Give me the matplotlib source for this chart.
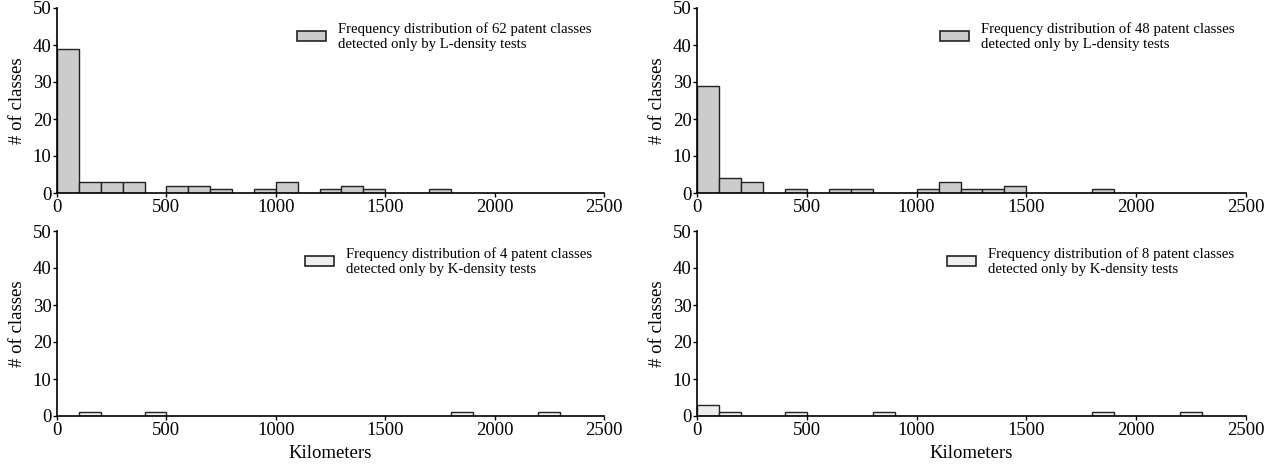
import matplotlib
matplotlib.use("Agg")
import matplotlib.pyplot as plt
import numpy as np
from matplotlib.patches import Patch

plt.rcParams['font.family'] = ['Liberation Serif', 'DejaVu Serif']

bin_width = 100
bin_starts = list(range(0, 2500, 100))

counts_L62 = [39, 3, 3, 3, 0, 2, 2, 1, 0, 1, 3, 0, 1, 2, 1, 0, 0, 1, 0, 0, 0, 0, 0, 0, 0]
counts_L48 = [29, 4, 3, 0, 1, 0, 1, 1, 0, 0, 1, 3, 1, 1, 2, 0, 0, 0, 1, 0, 0, 0, 0, 0, 0]
counts_K4 = [0, 1, 0, 0, 1, 0, 0, 0, 0, 0, 0, 0, 0, 0, 0, 0, 0, 0, 1, 0, 0, 0, 1, 0, 0]
counts_K8 = [3, 1, 0, 0, 1, 0, 0, 0, 1, 0, 0, 0, 0, 0, 0, 0, 0, 0, 1, 0, 0, 0, 1, 0, 0]

labels = [
    "Frequency distribution of 62 patent classes\ndetected only by L-density tests",
    "Frequency distribution of 48 patent classes\ndetected only by L-density tests",
    "Frequency distribution of 4 patent classes\ndetected only by K-density tests",
    "Frequency distribution of 8 patent classes\ndetected only by K-density tests",
]

x_ticks = [0, 500, 1000, 1500, 2000, 2500]
y_ticks = [0, 10, 20, 30, 40, 50]

fill_L = "#cccccc"
fill_K = "#eeeeee"
edge = "#222222"

fig = plt.figure(figsize=(12.84, 4.70), dpi=100)

W, H = 1284, 470
panels = [
    (57, 604, 193, 8, counts_L62, fill_L, labels[0], False, 297, 0.925),
    (697, 1246, 193, 8, counts_L48, fill_L, labels[1], False, 940, 0.925),
    (57, 604, 416, 231, counts_K4, fill_K, labels[2], True, 305, 0.915),
    (697, 1246, 416, 231, counts_K8, fill_K, labels[3], True, 947, 0.915),
]

for (l, r, b, t, counts, fc, lab, xl, legx, legy) in panels:
    ax = fig.add_axes([l / W, 1 - b / H, (r - l) / W, (b - t) / H])
    c = np.array(counts)
    s = np.array(bin_starts)
    m = c > 0
    ax.bar(s[m], c[m], width=bin_width, align='edge', facecolor=fc,
           edgecolor=edge, linewidth=1.0)
    ax.set_xlim(0, 2500)
    ax.set_ylim(0, 50)
    ax.set_xticks(x_ticks)
    ax.set_yticks(y_ticks)
    ax.tick_params(axis='both', direction='out', length=3, width=1,
                   labelsize=13.5, pad=1, colors='black')
    for sp in ['top', 'right']:
        ax.spines[sp].set_visible(False)
    for sp in ['left', 'bottom']:
        ax.spines[sp].set_linewidth(1.2)
        ax.spines[sp].set_color('black')
    ax.set_ylabel("# of classes", fontsize=13.5, labelpad=5)
    if xl:
        ax.set_xlabel("Kilometers", fontsize=13.5, labelpad=5)
    h = Patch(facecolor=fc, edgecolor=edge, linewidth=1.2)
    ax.legend([h], [lab], loc='upper left',
              bbox_to_anchor=((legx - l) / (r - l), legy),
              frameon=False, fontsize=10.6, handlelength=2.0, handleheight=0.65,
              handletextpad=0.8, borderpad=0, borderaxespad=0)

fig.savefig("out.png", dpi=100)
